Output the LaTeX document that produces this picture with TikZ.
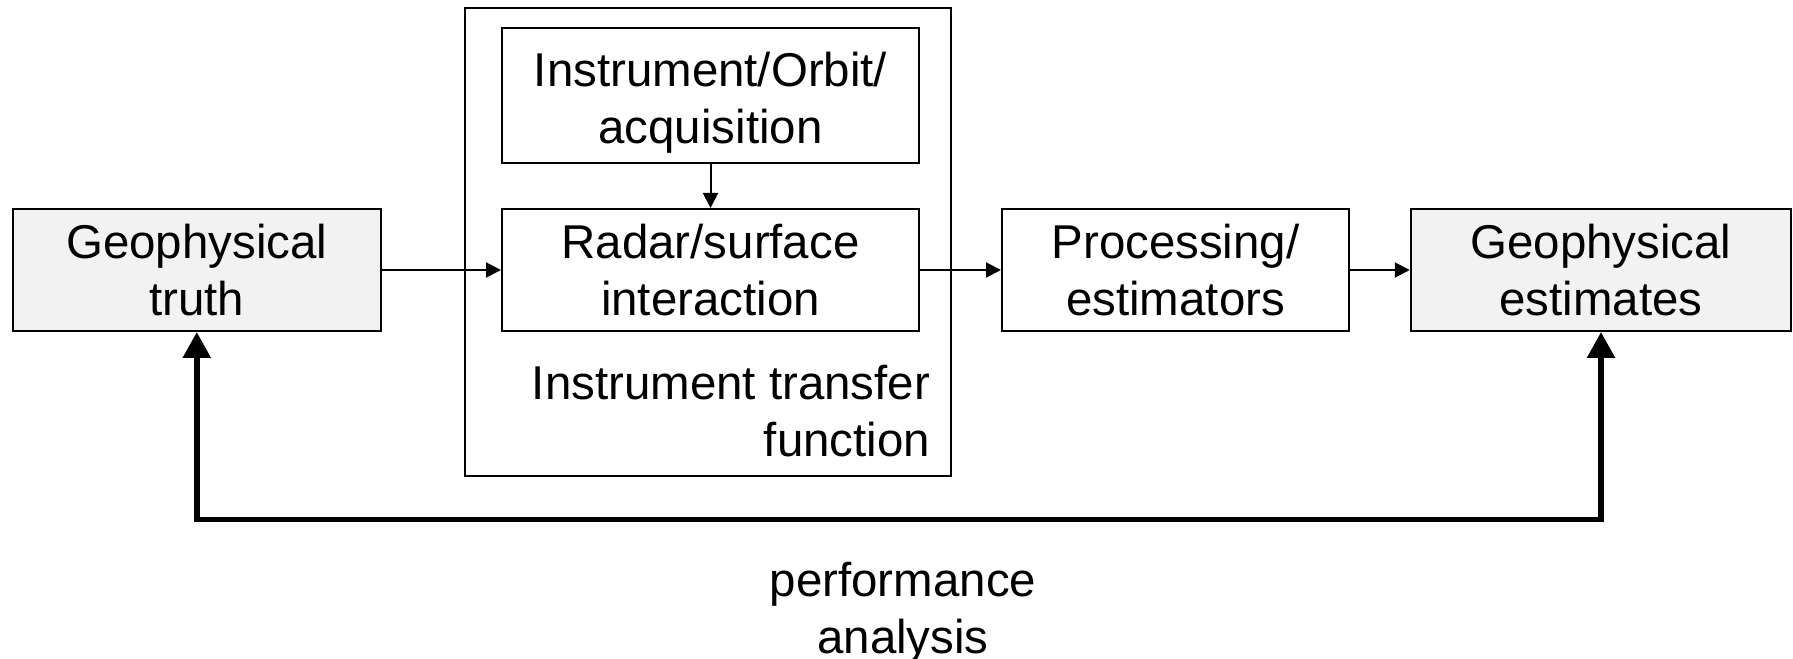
\documentclass[tikz,border=0pt]{standalone}
\usepackage{fontspec}
\setmainfont{Liberation Sans}
\usepackage{tikz}
\usetikzlibrary{arrows.meta}
\definecolor{boxgray}{RGB}{242,242,242}

\begin{document}
\begin{tikzpicture}[line width=0.57pt,
    font=\fontsize{13.5}{16.2}\selectfont,
    blk/.style={draw,minimum height=1.22cm,inner sep=0pt,align=center},
    shaded/.style={blk,fill=boxgray},
    flow/.style={-{Triangle[length=0.15cm,width=0.15cm]}},
    loop/.style={line width=1.6pt,{Triangle[length=0.26cm,width=0.27cm]}-{Triangle[length=0.26cm,width=0.27cm]}}]
        \useasboundingbox (0,0) rectangle (17.93,-6.59);
        \node[draw,minimum width=4.86cm,minimum height=4.675cm] (itf) at (7.08,-2.4225) {};
        \node[blk,minimum width=4.17cm,minimum height=1.35cm] (orbit) at (7.105,-0.955) {\rule{0pt}{0.49cm}Instrument/Orbit/\\acquisition};
        \node[blk,minimum width=4.17cm] (radar) at (7.105,-2.70) {Radar/surface\\interaction};
        \node[shaded,minimum width=3.68cm] (truth) at (1.968,-2.70) {Geophysical\\truth};
        \node[blk,minimum width=3.47cm] (proc) at (11.755,-2.70) {Processing/\\estimators};
        \node[shaded,minimum width=3.805cm] (est) at (16.01,-2.70) {Geophysical\\estimates};
        \node[align=right,anchor=east,inner sep=0pt] (itflabel) at (9.31,-4.11) {Instrument transfer\\function};
        \node[align=center,inner sep=0pt] (perf) at (9.03,-6.125) {performance\\analysis};
        \coordinate (fb) at (9,-5.195);
        \draw[flow] (orbit) -- (radar);
        \draw[flow] (truth) -- (radar);
        \draw[flow] (radar) -- (proc);
        \draw[flow] (proc) -- (est);
        \draw[loop] (truth.south) |- (fb) -| (est.south);
    \end{tikzpicture}
\end{document}
